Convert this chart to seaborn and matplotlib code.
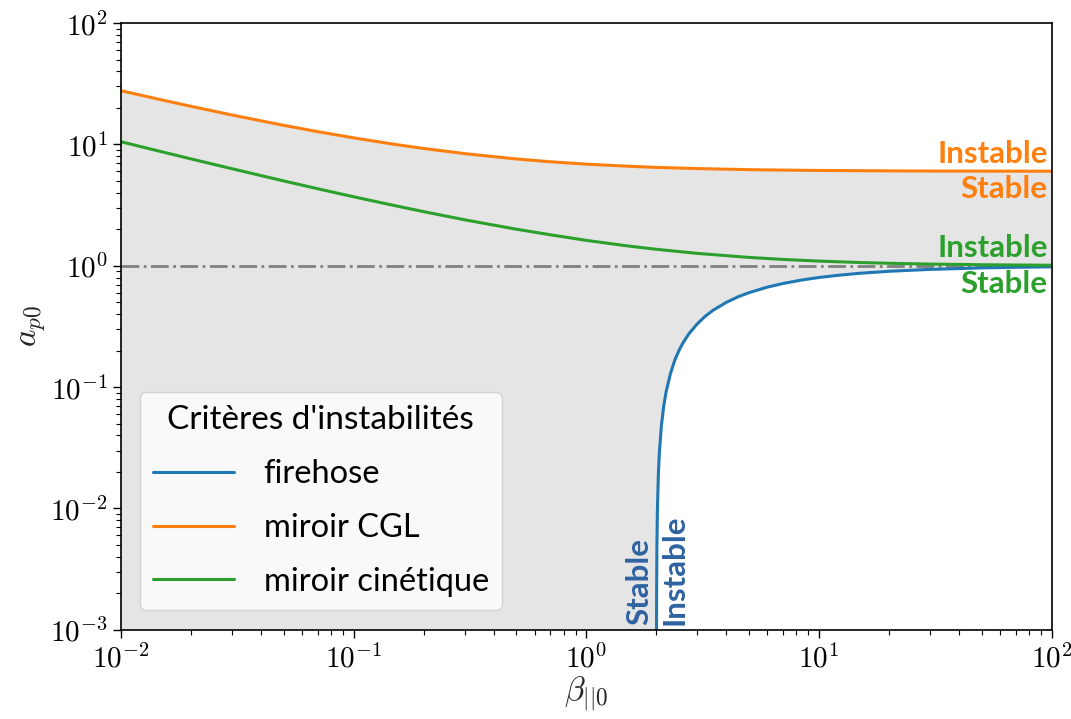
import numpy as np
import pandas as pd
import matplotlib
matplotlib.use("Agg")
import matplotlib.pyplot as plt
import matplotlib.ticker as ticker
import seaborn as sns

# Values (beta_par0 -> a_p0)
beta = [0.01, 0.015, 0.02, 0.03, 0.05, 0.07, 0.1, 0.15, 0.2, 0.3, 0.5, 0.7,
        1, 1.5, 2, 3, 5, 7, 10, 15, 20, 30, 50, 70, 100]
miroir_cgl = [27.68, 23.22, 20.58, 17.46, 14.36, 12.73, 11.31, 10.00, 9.25, 8.39,
              7.58, 7.19, 6.87, 6.61, 6.46, 6.32, 6.19, 6.14, 6.10, 6.07, 6.05,
              6.03, 6.02, 6.014, 6.01]
miroir_cin = [10.51, 8.68, 7.59, 6.30, 5.00, 4.31, 3.70, 3.13, 2.79, 2.39, 2.00,
              1.80, 1.618, 1.457, 1.366, 1.264, 1.171, 1.127, 1.092, 1.063, 1.048,
              1.032, 1.020, 1.014, 1.010]

beta_fh = [2.002, 2.004, 2.01, 2.02, 2.04, 2.06, 2.1, 2.15, 2.2, 2.3, 2.4, 2.5,
           2.6, 2.75, 3, 3.25, 3.5, 4, 4.5, 5, 6, 7, 8.5, 10, 12, 15, 20, 30,
           50, 70, 100]
firehose = [0.001, 0.002, 0.005, 0.0099, 0.0196, 0.0291, 0.0476, 0.0698, 0.0909,
            0.130, 0.167, 0.200, 0.231, 0.273, 0.333, 0.385, 0.429, 0.500, 0.556,
            0.600, 0.667, 0.714, 0.765, 0.800, 0.833, 0.867, 0.900, 0.933, 0.960,
            0.971, 0.980]

df_mir = pd.DataFrame({"beta": beta, "cgl": miroir_cgl, "cin": miroir_cin})
df_fh = pd.DataFrame({"beta": beta_fh, "fh": firehose})

sns.set_style("ticks", {"axes.edgecolor": "black", "xtick.color": "black",
                        "ytick.color": "black", "text.color": "black"})
plt.rcParams["font.family"] = ["Lato", "DejaVu Sans"]
plt.rcParams["mathtext.fontset"] = "cm"

fig, ax = plt.subplots(figsize=(10.71, 7.19), dpi=100)
fig.subplots_adjust(left=0.113, right=0.982, top=0.968, bottom=0.124)

# stable region shading
poly_x = beta + beta_fh[::-1] + [beta[0]]
poly_y = miroir_cgl + firehose[::-1] + [firehose[0]]
ax.fill(poly_x, poly_y, color="#e5e5e5", lw=0, zorder=0)

ax.axhline(1, color="gray", ls="-.", lw=2, zorder=1)

sns.lineplot(data=df_fh, x="beta", y="fh", color="#1f77b4", lw=2.2,
             label="firehose", ax=ax, sort=False)
sns.lineplot(data=df_mir, x="beta", y="cgl", color="#ff7f0e", lw=2.2,
             label="miroir CGL", ax=ax)
sns.lineplot(data=df_mir, x="beta", y="cin", color="#2ca02c", lw=2.2,
             label="miroir cinétique", ax=ax)

ax.set_xscale("log")
ax.set_yscale("log")
ax.set_xlim(1e-2, 1e2)
ax.set_ylim(1e-3, 1e2)

fmt = ticker.FuncFormatter(lambda v, p: r"$10^{%d}$" % round(np.log10(v)))
ax.xaxis.set_major_formatter(fmt)
ax.yaxis.set_major_formatter(fmt)
ax.tick_params(which="major", labelsize=21, length=6, width=1)
ax.tick_params(which="minor", length=3.5, width=0.8)
for s in ax.spines.values():
    s.set_visible(True)
    s.set_linewidth(1.2)

ax.set_xlabel(r"$\beta_{||0}$", fontsize=24, labelpad=2)
ax.set_ylabel(r"$a_{p0}$", fontsize=24, labelpad=2)

fs = 22.5
bold = dict(fontsize=fs, fontweight="bold")
ax.text(96, 6.4, "Instable", color="#ff7f0e", ha="right", va="bottom", **bold)
ax.text(96, 5.6, "Stable", color="#ff7f0e", ha="right", va="top", **bold)
ax.text(96, 1.07, "Instable", color="#2ca02c", ha="right", va="bottom", **bold)
ax.text(96, 0.93, "Stable", color="#2ca02c", ha="right", va="top", **bold)
ax.text(1.93, 1.1e-3, "Stable", color="#2e63a0", ha="right", va="bottom",
        rotation=90, **bold)
ax.text(2.08, 1.1e-3, "Instable", color="#2e63a0", ha="left", va="bottom",
        rotation=90, **bold)

leg = ax.legend(title="Critères d'instabilités", loc="lower left",
                bbox_to_anchor=(0.02, 0.033), borderaxespad=0, fontsize=23.5,
                title_fontsize=24, handlelength=2.5, handletextpad=0.9,
                labelspacing=0.73, frameon=True, framealpha=0.8)
leg.get_frame().set_edgecolor("#cccccc")

fig.savefig("out.png", dpi=100)
